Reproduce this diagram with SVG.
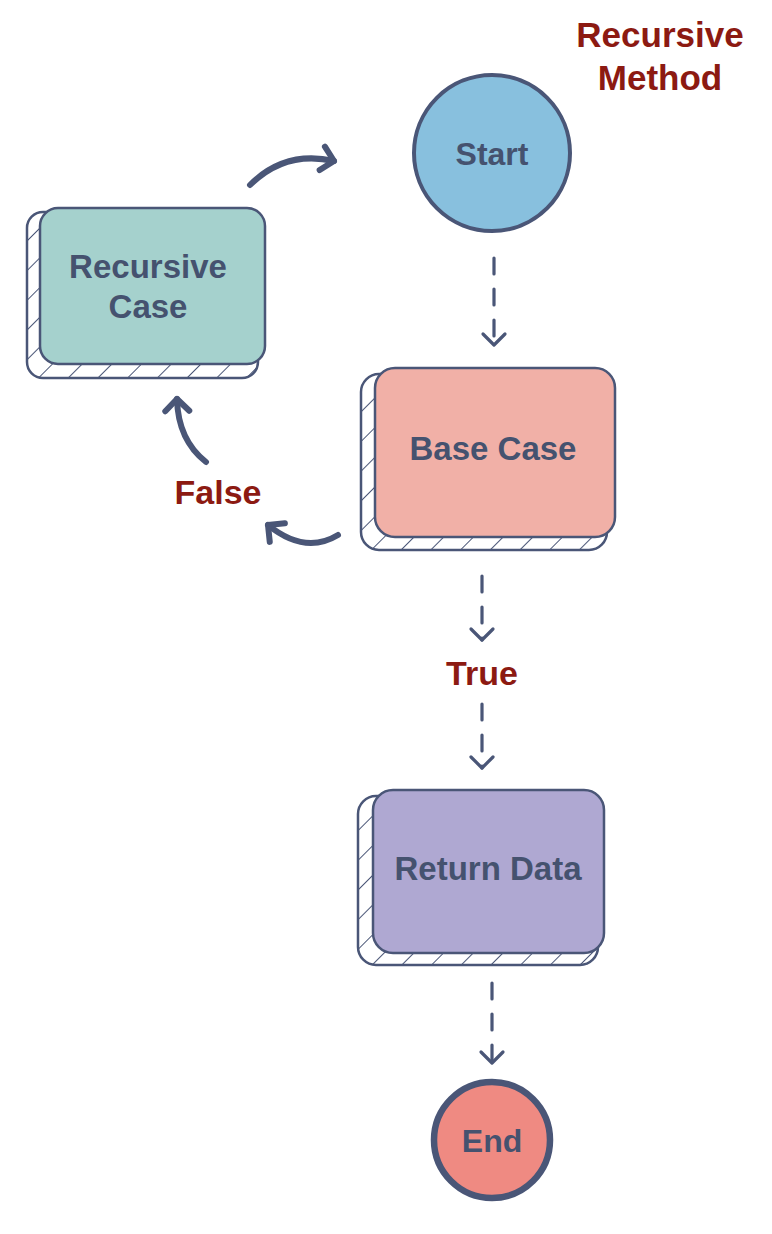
<svg xmlns="http://www.w3.org/2000/svg" width="772" height="1234" viewBox="0 0 772 1234">
<style>
.lbl{font-family:"Liberation Sans",Arial,sans-serif;font-weight:bold;fill:#45526f;text-anchor:middle}
.red{font-family:"Liberation Sans",Arial,sans-serif;font-weight:bold;fill:#8c1a12;text-anchor:middle}
.main{stroke:#4a5677;stroke-width:2.5}
.shadow{fill:url(#hatch);stroke:#4a5677;stroke-width:2.5}
.dash{fill:none;stroke:#4a5677;stroke-width:3.2;stroke-linecap:round;stroke-dasharray:16 15}
.curve{fill:none;stroke:#4a5677;stroke-width:6;stroke-linecap:round}
</style>
<defs>
<pattern id="hatch" patternUnits="userSpaceOnUse" width="21" height="21" patternTransform="rotate(45)">
<rect width="21" height="21" fill="#ffffff"/>
<line x1="0" y1="0" x2="0" y2="21" stroke="#4a5677" stroke-width="2"/>
</pattern>
<marker id="chev" markerUnits="userSpaceOnUse" viewBox="-14 -14 28 28" markerWidth="28" markerHeight="28" refX="0" refY="0" orient="auto">
<path d="M-11,-11 L0,0 L-11,11" fill="none" stroke="#4a5677" stroke-width="3.2" stroke-linecap="round" stroke-linejoin="round"/>
</marker>
<marker id="thick" markerUnits="userSpaceOnUse" viewBox="-16 -16 32 32" markerWidth="32" markerHeight="32" refX="0" refY="0" orient="auto">
<path d="M-12,-12 L0,0 L-12,12" fill="none" stroke="#4a5677" stroke-width="6" stroke-linecap="round" stroke-linejoin="round"/>
</marker>
</defs>

<g id="title">
<text class="red" x="660" y="47" font-size="35">Recursive</text>
<text class="red" x="660" y="90" font-size="35">Method</text>
</g>

<g id="connectors">
<path class="dash" d="M494,258 L494,345" marker-end="url(#chev)"/>
<path class="dash" d="M482,576 L482,640" marker-end="url(#chev)"/>
<path class="dash" d="M482,704 L482,768" marker-end="url(#chev)"/>
<path class="dash" d="M492,983 L492,1063" marker-end="url(#chev)"/>
<path class="curve" d="M250,185 Q285,150 334,161" marker-end="url(#thick)"/>
<path class="curve" d="M338,535 Q305,555 268,525" marker-end="url(#thick)"/>
<path class="curve" d="M206,462 Q178,440 177,399" marker-end="url(#thick)"/>
<text class="red" x="218" y="504" font-size="34">False</text>
<text class="red" x="482" y="685" font-size="34">True</text>
</g>

<g id="start">
<circle cx="492" cy="153" r="78" fill="#88c0de" stroke="#4a5677" stroke-width="4"/>
<text class="lbl" x="492" y="165" font-size="32">Start</text>
</g>

<g id="recursive-case">
<rect class="shadow" x="27" y="212" width="231" height="166" rx="16"/>
<rect class="main" x="40" y="208" width="225" height="156" rx="18" fill="#a5d1cd"/>
<text class="lbl" x="148" y="278" font-size="33">Recursive</text>
<text class="lbl" x="148" y="318" font-size="33">Case</text>
</g>

<g id="base-case">
<rect class="shadow" x="361" y="374" width="246" height="176" rx="18"/>
<rect class="main" x="375" y="368" width="240" height="169" rx="20" fill="#f1b0a7"/>
<text class="lbl" x="493" y="460" font-size="33">Base Case</text>
</g>

<g id="return-data">
<rect class="shadow" x="358" y="796" width="240" height="169" rx="18"/>
<rect class="main" x="373" y="790" width="231" height="163" rx="20" fill="#afa8d2"/>
<text class="lbl" x="488" y="880" font-size="33">Return Data</text>
</g>

<g id="end">
<circle cx="492" cy="1140" r="58" fill="#ef8a82" stroke="#4a5677" stroke-width="6.5"/>
<text class="lbl" x="492" y="1152" font-size="32">End</text>
</g>
</svg>
